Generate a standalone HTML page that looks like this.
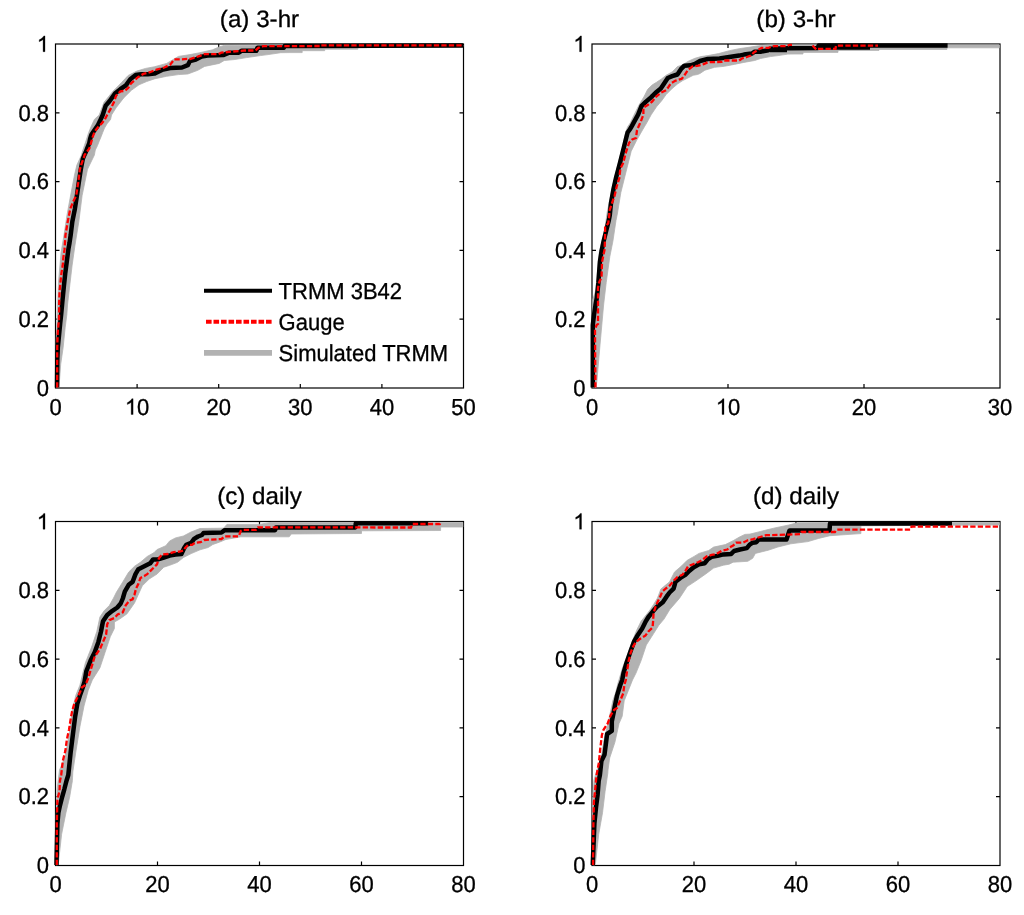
<!DOCTYPE html><html><head><meta charset="utf-8"><style>html,body{margin:0;padding:0;background:#fff;overflow:hidden}svg{display:block;will-change:transform;} text{font-family:"Liberation Sans",sans-serif;text-rendering:geometricPrecision;font-size:22px;fill:#000;stroke:#000;stroke-width:0.3px;}</style></head><body>
<svg width="1024" height="915" viewBox="0 0 1024 915">
<rect width="1024" height="915" fill="#fff"/>
<rect x="55.5" y="44" width="408.0" height="344" fill="none" stroke="#000" stroke-width="1.2"/>
<path d="M137.1 388V384M137.1 44V48M218.7 388V384M218.7 44V48M300.3 388V384M300.3 44V48M381.9 388V384M381.9 44V48M55.5 319.2H59.5M463.5 319.2H459.5M55.5 250.4H59.5M463.5 250.4H459.5M55.5 181.6H59.5M463.5 181.6H459.5M55.5 112.8H59.5M463.5 112.8H459.5" stroke="#000" stroke-width="1.2" fill="none"/>
<polygon points="56.2,387.3 56.2,340 57,320 58.5,282 61,253 64,235 67,215 70.5,196 74.5,175 76.9,165 81.5,155 82.2,152.2 84.4,145.6 86.6,139 88.7,132.5 91.4,125.9 94.4,119.4 99.2,115 104,102.3 112.8,91.4 121.5,82.6 128.1,75.5 136.8,71.1 145.6,68.4 154.3,66.8 166.7,63.4 178.4,56.4 190,54.6 199.8,52.7 212.5,49.8 218.3,47.3 224.2,45.4 290,44.9 462.8,44.9 462.8,46.5 357.9,47.8 357.9,49.2 324.7,49.2 324.7,50.7 302.2,50.7 302.2,52.6 290,52.6 280.8,52.7 268.1,54.6 260.3,55.6 246.6,57.6 234.9,59.5 224.2,60.5 219.3,63.4 204.6,66.4 197.8,70.3 190,73.2 187.8,74 178.4,74.6 166.7,76.3 160,77.7 155,78.7 146.7,81.5 139,84.8 131.4,90.3 123.7,97.9 116.1,107.8 111.5,115 110.6,119.4 107.1,123.7 104.5,128.1 102.7,132.5 101,136.9 99.2,141.2 97.5,145.6 95.3,150 94.4,155 87.5,169.3 82.1,195.6 78.8,221.8 75,245 72.1,265.5 69.7,286 67.5,305 66.8,315 65.2,327.3 63.1,347.8 60.7,364.2 59,387.3" fill="#b2b2b2" stroke="#b2b2b2" stroke-width="0.8" stroke-linejoin="round"/>
<polyline points="57,387.5 57.3,360 57.8,347.8 59,335.5 60.2,323.2 61.1,315 62.3,302.4 63.9,286 65.2,273.7 66.8,261.4 68.4,249.1 69.5,243 70.7,234.9 72.3,221.8 74.9,208.7 76.9,195.6 78.8,182.5 80.8,169.3 82.8,158.9 84.4,155 85.7,152.2 87.4,147.8 89.2,143.4 90.1,139 91.4,134.7 94.4,130.3 97.5,125.9 99.7,121.6 102.7,115 105.7,105.6 109.5,101.2 115,93.6 120.4,89.2 125.9,85.4 130.3,79.3 135.7,75 141.2,74.3 147.8,74.3 154.3,73.6 162,69.9 170.2,68.1 182,67.5 187.8,65.2 190,61 195.9,59.5 201.7,56.6 207.6,55.6 223.2,55.1 229.1,52.7 238.8,52.7 241.8,50.7 256.4,50.7 257.4,47.8 283.8,47.8 284.7,45.9 290,45.9 463,45.5" fill="none" stroke="#000" stroke-width="4.5" stroke-linejoin="round"/>
<polyline points="57.2,387.5 57.2,347.8 57.8,331.4 59,319 59.2,302 59.6,291 60.7,280.2 61.5,272.9 62.7,265.5 63.4,257.3 64.5,249.9 65.5,234.9 67.7,221.8 70.3,208.7 73.6,200.8 76.2,195.6 78.2,182.5 79.9,169.3 81.4,164.1 84.3,156.2 84.5,155 85.7,153.5 89.2,148.7 90.9,143.4 92.7,136.9 94.9,131.2 98.4,126.8 101.9,123.3 104.9,119.4 107.1,115 110.6,108.9 113.9,102.3 116.1,95.7 120.4,91.4 124.8,90.8 128.1,88.1 130.8,83.7 134.6,80.4 137.9,77.2 143.4,73.9 149.9,72.2 156.5,69.6 164.4,67.5 170.2,64.6 174.3,59.3 182,59.3 187.8,58.8 190,59 194.9,57.6 200.7,55.6 204.6,54.2 218.3,54.2 221.3,52.7 231,51.7 244.7,50.5 255.4,50.5 258.4,47.8 263.2,46.1 290,46.1 320.8,46 321,45.3 463,45.3" fill="none" stroke="#f00" stroke-width="2.3" stroke-dasharray="5.3 2.2"/>
<text transform="translate(55.5 414.5) scale(1 1.05)" text-anchor="middle">0</text>
<path transform="translate(124.9 414.5) scale(0.01074 -0.01074)" stroke="#000" stroke-width="0.3" vector-effect="non-scaling-stroke" d="M763 0H583V1147Q518 1085 412.5 1023Q307 961 223 930V1104Q374 1175 487 1276Q600 1377 647 1472H763Z"/><text transform="translate(137.1 414.5) scale(1 1.05)">0</text>
<text transform="translate(218.7 414.5) scale(1 1.05)" text-anchor="middle">20</text>
<text transform="translate(300.3 414.5) scale(1 1.05)" text-anchor="middle">30</text>
<text transform="translate(381.9 414.5) scale(1 1.05)" text-anchor="middle">40</text>
<text transform="translate(463.5 414.5) scale(1 1.05)" text-anchor="middle">50</text>
<text transform="translate(49 395.7) scale(1 1.05)" text-anchor="end">0</text>
<text transform="translate(49 326.9) scale(1 1.05)" text-anchor="end">0.2</text>
<text transform="translate(49 258.1) scale(1 1.05)" text-anchor="end">0.4</text>
<text transform="translate(49 189.3) scale(1 1.05)" text-anchor="end">0.6</text>
<text transform="translate(49 120.5) scale(1 1.05)" text-anchor="end">0.8</text>
<path transform="translate(36.8 51.7) scale(0.01074 -0.01074)" stroke="#000" stroke-width="0.3" vector-effect="non-scaling-stroke" d="M763 0H583V1147Q518 1085 412.5 1023Q307 961 223 930V1104Q374 1175 487 1276Q600 1377 647 1472H763Z"/>
<text transform="translate(259.5 26.5) scale(1 0.98)" text-anchor="middle" style="font-size:24.2px">(a) 3-hr</text>
<rect x="592" y="44" width="408" height="344" fill="none" stroke="#000" stroke-width="1.2"/>
<path d="M728 388V384M728 44V48M864 388V384M864 44V48M592 319.2H596M1000 319.2H996M592 250.4H596M1000 250.4H996M592 181.6H596M1000 181.6H996M592 112.8H596M1000 112.8H996" stroke="#000" stroke-width="1.2" fill="none"/>
<polygon points="592.7,387.3 592.7,300 595.8,290 599.4,251.5 604.6,230.8 607.2,212 613.6,182.3 618.7,161.5 622.9,146 625.5,132.5 627.6,126.9 630.2,123.1 633.7,115.6 639,105.1 644.2,96.3 647.7,89.3 652.1,85 656.5,82.3 661.7,78.8 666.1,75.3 672.2,71.9 677.4,66.6 682.7,64.9 687.9,61.4 694.9,58.3 701,56.6 707.8,55.6 718.6,53.6 729.3,50.7 739.1,48.7 748.8,47.3 758.6,45.8 768.4,45 800,44.9 999.3,44.9 999.3,47.8 947,47.8 947,49.4 879,49.4 879,50.4 838,50.4 838,52.4 803,52.4 803,54 795,54 787.9,54.1 778.1,55.6 770.3,56.6 760.5,58.5 754.7,60.5 743.9,62.4 734.2,64.4 724.4,66.3 714.6,67.3 704.9,70.2 700,73.5 697.6,74.5 693.2,75.3 687.9,78 682.7,80.6 677.4,84.1 672.2,88.5 666.1,94.6 661.7,100.7 656.5,106.8 651.2,114.7 646.9,122.6 642.5,130 636.4,140.8 631.2,151.2 626,171.9 620.8,192.7 617.5,213 616,220.4 612.9,241.2 609.8,256.7 606.2,282.7 603.6,305 600,345 597,380 596,387.3" fill="#b2b2b2" stroke="#b2b2b2" stroke-width="0.8" stroke-linejoin="round"/>
<polyline points="592.8,387.5 592.8,325 594,315 595.5,305 596.8,298 598.4,282.7 599.9,261.9 601.5,251.5 603.6,241.2 606.2,230.8 608.8,220.4 609.8,215 611,203.1 613.6,188.5 616.2,177.1 619.8,163.6 622.9,151.2 625.5,140.8 627.6,132.5 629.4,130 631.2,127.3 633.7,122.6 638.1,114.7 641.6,105.9 646,101.6 651.2,97.2 655.6,92.8 660.8,88.5 664.3,83.2 667.8,78 672.2,76.2 677.4,74.5 680.9,69.2 684.4,65.7 690.6,65.3 694.9,64 700,61 707.8,59 719.5,58.5 729.3,57 739.1,55.6 743.9,54.6 751.8,53.6 754.7,51.7 760.5,51.7 768.4,50.2 770.3,48.7 787,48.3 818,48 818.5,45.6 947.6,45.6" fill="none" stroke="#000" stroke-width="4.5" stroke-linejoin="round"/>
<polyline points="770,50 787,50" fill="none" stroke="#000" stroke-width="4.5" stroke-linejoin="round"/>
<polyline points="818,47.5 870,47.5" fill="none" stroke="#000" stroke-width="4.5" stroke-linejoin="round"/>
<polyline points="595.5,387.5 595.2,360 595,330 596.5,325.1 598,324 598,288 599.4,281.7 601.5,277.5 602,262 604.6,249.5 605.1,236 605.1,226.6 608.2,223.5 609.3,215.2 609.3,211 612,203.1 614.6,195.8 616.7,186.5 619.3,178.2 620.3,168.8 622.9,163.6 626,152.2 629.1,142.8 632.2,139.5 636,138 637,130 640.7,121.7 643.4,114.7 643.4,107.7 647.7,105.1 652.1,101.6 656.5,96.3 660.8,92.8 666.1,90.2 668.7,86.7 670.9,83.2 675.7,80.6 681.8,78.8 684.4,75.3 687.9,70.1 692.3,66.6 698.4,65.7 703.7,64.2 707.8,62.2 721.5,61.9 723.4,60.5 739.1,60.5 742,58.5 746.9,57 750.8,55.6 753.7,52.6 757.6,50.2 761.5,47.8 768.4,47.8 771.3,46.8 774.2,46.2 787,46.2 789.5,44.8 792,44.8" fill="none" stroke="#f00" stroke-width="2.3" stroke-dasharray="5.3 2.2"/>
<polyline points="812.5,45.5 816.3,49.5 817,48.8 835.5,48.8 836,45.7 878,45.7" fill="none" stroke="#f00" stroke-width="2.3" stroke-dasharray="5.3 2.2"/>
<text transform="translate(592 414.5) scale(1 1.05)" text-anchor="middle">0</text>
<path transform="translate(715.8 414.5) scale(0.01074 -0.01074)" stroke="#000" stroke-width="0.3" vector-effect="non-scaling-stroke" d="M763 0H583V1147Q518 1085 412.5 1023Q307 961 223 930V1104Q374 1175 487 1276Q600 1377 647 1472H763Z"/><text transform="translate(728 414.5) scale(1 1.05)">0</text>
<text transform="translate(864 414.5) scale(1 1.05)" text-anchor="middle">20</text>
<text transform="translate(1000 414.5) scale(1 1.05)" text-anchor="middle">30</text>
<text transform="translate(585.5 395.7) scale(1 1.05)" text-anchor="end">0</text>
<text transform="translate(585.5 326.9) scale(1 1.05)" text-anchor="end">0.2</text>
<text transform="translate(585.5 258.1) scale(1 1.05)" text-anchor="end">0.4</text>
<text transform="translate(585.5 189.3) scale(1 1.05)" text-anchor="end">0.6</text>
<text transform="translate(585.5 120.5) scale(1 1.05)" text-anchor="end">0.8</text>
<path transform="translate(573.3 51.7) scale(0.01074 -0.01074)" stroke="#000" stroke-width="0.3" vector-effect="non-scaling-stroke" d="M763 0H583V1147Q518 1085 412.5 1023Q307 961 223 930V1104Q374 1175 487 1276Q600 1377 647 1472H763Z"/>
<text transform="translate(796 26.5) scale(1 0.98)" text-anchor="middle" style="font-size:24.2px">(b) 3-hr</text>
<rect x="55.5" y="521.5" width="408.0" height="344.0" fill="none" stroke="#000" stroke-width="1.2"/>
<path d="M157.5 865.5V861.5M157.5 521.5V525.5M259.5 865.5V861.5M259.5 521.5V525.5M361.5 865.5V861.5M361.5 521.5V525.5M55.5 796.7H59.5M463.5 796.7H459.5M55.5 727.9H59.5M463.5 727.9H459.5M55.5 659.1H59.5M463.5 659.1H459.5M55.5 590.3H59.5M463.5 590.3H459.5" stroke="#000" stroke-width="1.2" fill="none"/>
<polygon points="56.2,864.8 56.2,820 57,790 59.5,770 62.5,763 65.4,755 69.5,731.9 72.1,711.2 75.7,695.6 79.9,685.2 85.4,662.7 91.6,647.1 96.8,631.5 99.9,617 104.1,610.8 109.3,605.6 113.4,598.3 116.5,592.1 122.8,581.9 128.7,572.1 134.5,566.3 140.4,562.3 147.2,556.5 154.1,552.6 157,549.6 165.8,545.7 169.7,540.9 175.5,537.9 183.4,536 191,532 200,528.5 223.6,528.2 226.9,524.4 259.1,524.4 270.9,522.4 462.8,522.4 462.8,527 440.6,527 440.6,530.5 361.5,530.8 361.5,533.5 291.3,534 289.2,536.8 240.8,536.8 225.8,539.5 219.3,542.2 212.8,544.5 208.2,547.5 200,549.8 191.2,553.6 183.4,557.5 177.5,562.3 169.7,565.3 163.8,567.2 157,574.1 149.2,579 142.3,585.8 134.5,603 126.9,613.9 119.6,619.1 114.4,622 114.4,628.4 110.3,636.7 105.1,652.3 99.9,667.9 92.3,680 88.2,690.4 84,706 79.9,726.7 75.7,752.7 72.8,772 72.4,780.7 69.7,796.8 65.9,812.9 61.6,834.3 58.4,863.2 57.5,864.8" fill="#b2b2b2" stroke="#b2b2b2" stroke-width="0.8" stroke-linejoin="round"/>
<polyline points="56.5,865 56.5,863.2 57.4,823.6 58.4,812.9 60,805.4 62.2,796.8 64.3,789.3 66.5,780.7 68.3,775 70.6,752.7 73.2,731.9 75.2,716.3 77.3,703.9 79.9,695.6 82.5,688.3 84.5,682 86.4,671 90.6,660.6 94.7,652.3 98.4,641.9 101,631.5 103,621.2 107.2,614.9 112.4,610.8 117.3,607.5 120.7,603.5 122.8,598.5 124.8,591.6 128.7,584.8 132.6,581.9 135.5,574.1 138.4,569.2 144.3,566.3 150.2,563.3 153.1,559.4 158,559.4 163.8,557.5 169.7,555.5 175.5,554.5 181.4,554 184.3,547.7 186.3,544.8 191.2,542.8 194.1,538.9 198,536.5 202,535 203.5,533 221.5,532.5 224.7,530.2 275,530.2 276,527.4 355.4,527.4 355.8,523.3 428.2,523.3" fill="none" stroke="#000" stroke-width="4.5" stroke-linejoin="round"/>
<polyline points="56.8,865 56.8,823.6 57.4,800 57.9,797.3 59.5,791.4 60,780.7 61.2,775 62.8,761 65.4,750.6 66.9,739.2 69,729.8 70.6,719.5 72.1,711.2 74.2,703.9 77.3,697.7 79.9,692.5 82,687.3 85.5,685 88.3,678 91.6,666.8 94.7,656.5 99.9,649.2 103,641.9 106.1,634.7 107.2,624.3 109.3,620.1 114.4,618 117.6,614.5 122.8,612.3 125.7,605.3 129.6,600.4 132.6,599.3 134.5,594.6 136,588.7 138.4,583.8 140.4,578 144.3,576 147.2,574.1 150.2,571.1 154.1,567.2 157,564.3 158.9,558.4 161.9,554.5 167.7,554 173.6,552.1 179.5,551.6 183.4,550.6 185.3,547.7 188.2,544.8 192.1,544.8 195.1,542.8 200.5,542.2 204.3,540 221.5,539 224.7,536.3 238.7,536.3 240.8,530.9 243,529.8 255.9,529.8 258,527.4 411,527.5 412.4,524 439.8,524 440.5,522.5" fill="none" stroke="#f00" stroke-width="2.3" stroke-dasharray="5.3 2.2"/>
<text transform="translate(55.5 892) scale(1 1.05)" text-anchor="middle">0</text>
<text transform="translate(157.5 892) scale(1 1.05)" text-anchor="middle">20</text>
<text transform="translate(259.5 892) scale(1 1.05)" text-anchor="middle">40</text>
<text transform="translate(361.5 892) scale(1 1.05)" text-anchor="middle">60</text>
<text transform="translate(463.5 892) scale(1 1.05)" text-anchor="middle">80</text>
<text transform="translate(49 873.2) scale(1 1.05)" text-anchor="end">0</text>
<text transform="translate(49 804.4) scale(1 1.05)" text-anchor="end">0.2</text>
<text transform="translate(49 735.6) scale(1 1.05)" text-anchor="end">0.4</text>
<text transform="translate(49 666.8) scale(1 1.05)" text-anchor="end">0.6</text>
<text transform="translate(49 598) scale(1 1.05)" text-anchor="end">0.8</text>
<path transform="translate(36.8 529.2) scale(0.01074 -0.01074)" stroke="#000" stroke-width="0.3" vector-effect="non-scaling-stroke" d="M763 0H583V1147Q518 1085 412.5 1023Q307 961 223 930V1104Q374 1175 487 1276Q600 1377 647 1472H763Z"/>
<text transform="translate(259.5 504) scale(1 0.98)" text-anchor="middle" style="font-size:24.2px">(c) daily</text>
<rect x="592" y="521.5" width="408" height="344.0" fill="none" stroke="#000" stroke-width="1.2"/>
<path d="M694 865.5V861.5M694 521.5V525.5M796 865.5V861.5M796 521.5V525.5M898 865.5V861.5M898 521.5V525.5M592 796.7H596M1000 796.7H996M592 727.9H596M1000 727.9H996M592 659.1H596M1000 659.1H996M592 590.3H596M1000 590.3H996" stroke="#000" stroke-width="1.2" fill="none"/>
<polygon points="592.7,864.8 592.7,800 594,780 597,770 600.4,763.1 603.5,742.3 607.6,724.7 611.8,706 612.8,700.8 615.4,693.5 618,683.1 622.5,667.9 627.6,654.4 632.8,639.8 637,629.5 641.1,621.2 645.3,616 649.4,610.8 653.6,604.5 657.5,598 660.9,589 669.6,581.8 674.5,572 681.4,566.1 687.2,560.3 694.1,556.4 699,553.4 708.7,550.5 713.6,547.1 725.3,544.6 733.1,540.7 739,537.3 744.8,534.4 750,534.1 760.7,531.4 773.6,528.2 788.7,525 797.3,522.8 829.5,522.4 999.3,522.4 999.3,525 952,525.2 860.9,525.8 860.9,533.6 830,535.7 818.7,538.4 808,541.6 790.8,543.8 777.9,547 768.3,550.2 755.4,553.4 752.7,558.3 747.8,561.3 733.1,562.2 729.2,564.2 723.4,565.2 713.6,568.1 705.8,573.9 696,580.8 687.2,586.6 679.4,598.4 669.8,609.5 664,619.1 658.8,625.3 653.6,633.6 646.3,645 641.1,660.6 636,673.1 632.5,680 628.4,690.4 624.2,700.8 622.2,716.3 619,723.6 614.9,742.3 609.7,757.9 608,770 607.8,773.2 605.1,791.4 602.5,812.9 598.7,834.3 595.5,863.2 595,864.8" fill="#b2b2b2" stroke="#b2b2b2" stroke-width="0.8" stroke-linejoin="round"/>
<polyline points="592.8,865 592.8,863.2 594.4,823.6 596,807.5 597.6,794.7 598.7,780.7 599.9,775 601.4,761 604.5,754.8 606.1,742.3 607.1,734 611.8,730.9 611.8,721.5 613.9,711.2 614.9,706 617,695.6 620.3,685 622.2,680 623.5,673.1 626.6,662.7 630.2,652.3 633.9,641.9 638,634.7 642.2,628.4 645.3,622.2 648.4,617 652.6,611.8 656.7,607 662.8,602.3 666.7,596.4 669.6,592.5 673.6,588.6 675.5,581.8 680.4,577.9 685.3,574.9 689.2,571 694.1,567.1 699,564.2 704.8,563.2 707.7,559.3 711.6,556.9 717.5,555.9 723.4,554.4 731.2,553.9 734.1,551 740,549.5 746.8,548.1 749.7,544.6 752.7,542.7 756.4,542.2 758.6,539.5 786.5,539.5 789.5,530.5 829.5,530.5 830,523.6 952,523.4" fill="none" stroke="#000" stroke-width="4.5" stroke-linejoin="round"/>
<polyline points="593.1,865 593.1,863.2 593.4,823.6 593.9,802.2 595,791.4 596,780.7 596.6,775 597.5,770 598.8,763.1 600.4,747.5 601.9,735 603.5,729.8 607.6,723.6 610.7,715.3 613.9,710.1 617,708 620.1,700.8 623.2,693.5 624.3,685.2 625.8,680 627.1,671 628.7,660.6 630.8,652.3 633.4,646.1 636,641.9 640.1,638.8 645.3,635.7 648.4,631.5 652.6,627.4 653.1,621.2 653.6,612.8 655.7,606.5 657.8,601.4 659.9,597.4 662.3,591.5 665.7,588.6 669.6,585.7 673.6,580.8 677.5,576.9 682.3,574.9 685.3,571 688.2,566.1 693.1,564.2 698,562.2 701.9,560.3 706.8,556.4 711.6,554.9 716.5,553.9 721.4,551 727.3,549.5 729.2,547.6 733.1,545.6 736.1,542.7 742.9,542.7 747.8,540.3 752,539.5 755.4,538.4 766.1,535.2 788.7,534.6 800.5,534.1 801.6,532 834.9,532 837,529.6 910.5,529.6 911.5,526.7 999.2,526.7" fill="none" stroke="#f00" stroke-width="2.3" stroke-dasharray="5.3 2.2"/>
<text transform="translate(592 892) scale(1 1.05)" text-anchor="middle">0</text>
<text transform="translate(694 892) scale(1 1.05)" text-anchor="middle">20</text>
<text transform="translate(796 892) scale(1 1.05)" text-anchor="middle">40</text>
<text transform="translate(898 892) scale(1 1.05)" text-anchor="middle">60</text>
<text transform="translate(1000 892) scale(1 1.05)" text-anchor="middle">80</text>
<text transform="translate(585.5 873.2) scale(1 1.05)" text-anchor="end">0</text>
<text transform="translate(585.5 804.4) scale(1 1.05)" text-anchor="end">0.2</text>
<text transform="translate(585.5 735.6) scale(1 1.05)" text-anchor="end">0.4</text>
<text transform="translate(585.5 666.8) scale(1 1.05)" text-anchor="end">0.6</text>
<text transform="translate(585.5 598) scale(1 1.05)" text-anchor="end">0.8</text>
<path transform="translate(573.3 529.2) scale(0.01074 -0.01074)" stroke="#000" stroke-width="0.3" vector-effect="non-scaling-stroke" d="M763 0H583V1147Q518 1085 412.5 1023Q307 961 223 930V1104Q374 1175 487 1276Q600 1377 647 1472H763Z"/>
<text transform="translate(796 504) scale(1 0.98)" text-anchor="middle" style="font-size:24.2px">(d) daily</text>
<path d="M204 290.8H272" stroke="#000" stroke-width="4"/>
<path d="M206 321.8H272" stroke="#f00" stroke-width="4" stroke-dasharray="5.6 1.9"/>
<path d="M204 352.9H272" stroke="#b2b2b2" stroke-width="5.6"/>
<text transform="translate(278.6 299.2) scale(1 1.05)">TRMM 3B42</text>
<text transform="translate(278.6 330.2) scale(1 1.05)">Gauge</text>
<text transform="translate(278.6 361.2) scale(1 1.05)">Simulated TRMM</text>
</svg></body></html>
